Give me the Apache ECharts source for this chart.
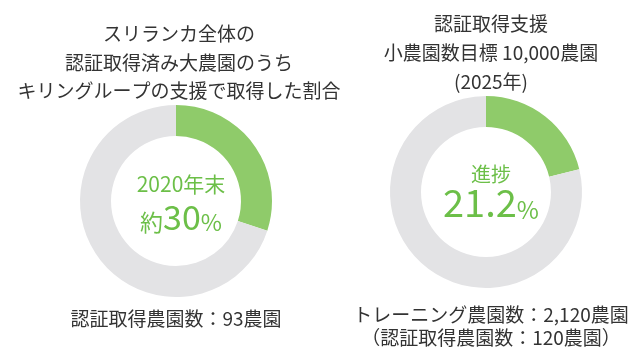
<!DOCTYPE html>
<html><head><meta charset="utf-8">
<script src="https://cdn.jsdelivr.net/npm/echarts@6/dist/echarts.min.js"></script>
<style>html,body{margin:0;padding:0;background:#fff}#c{width:640px;height:360px}</style>
</head><body><div id="c"></div>
<script>
const leftNames = ['キリングループの支援で取得', 'その他'];
const leftValues = [30, 70];
const rightNames = ['進捗', '残り'];
const rightValues = [21.2, 78.8];
const leftTitle = 'スリランカ全体の\n認証取得済み大農園のうち\nキリングループの支援で取得した割合';
const rightTitle = '認証取得支援\n小農園数目標 10,000農園\n(2025年)';
const leftFoot = '認証取得農園数：93農園';
const rightFoot = 'トレーニング農園数：2,120農園\n（認証取得農園数：120農園）';

const GREEN = '#8fcb6a', GRAY = '#e3e3e5', TXT = '#333333', TGREEN = '#6cbf48';
const FONT = '"Noto Sans CJK JP", "Noto Sans", sans-serif';
const chart = echarts.init(document.getElementById('c'));
function pie(names, vals, center) {
  return {
    type: 'pie', radius: [65, 96], center: center, startAngle: 90, clockwise: true,
    silent: true, label: { show: false }, labelLine: { show: false }, animation: false,
    data: names.map((n, i) => ({ name: n, value: vals[i], itemStyle: { color: i === 0 ? GREEN : GRAY } }))
  };
}
const norm = { fontWeight: 'normal', fontFamily: FONT };
chart.setOption({
  animation: false,
  textStyle: { fontFamily: FONT },
  title: [
    { text: leftTitle, left: 174, top: 15, textAlign: 'center',
      textStyle: Object.assign({ fontSize: 19, color: TXT, lineHeight: 28.5 }, norm) },
    { text: rightTitle, left: 486, top: 4, textAlign: 'center',
      textStyle: Object.assign({ fontSize: 19, color: TXT, lineHeight: 29 }, norm) },
    { text: leftFoot, left: 171, top: 304, textAlign: 'center',
      textStyle: Object.assign({ fontSize: 19, color: TXT }, norm) },
    { text: rightFoot, left: 486, top: 298, textAlign: 'center',
      textStyle: Object.assign({ fontSize: 19, color: TXT, lineHeight: 23 }, norm) },
    { text: '2020年末', left: 176, top: 169, textAlign: 'center',
      textStyle: Object.assign({ fontSize: 21, color: TGREEN }, norm) },
    { text: '{a|約}{b|30}{a|%}', left: 176, top: 195, textAlign: 'center',
      textStyle: Object.assign({ rich: {
        a: Object.assign({ fontSize: 23, color: TGREEN, verticalAlign: 'bottom' }, norm),
        b: Object.assign({ fontSize: 34, color: TGREEN, verticalAlign: 'bottom' }, norm) } }, norm) },
    { text: '進捗', left: 486, top: 159, textAlign: 'center',
      textStyle: Object.assign({ fontSize: 20, color: TGREEN }, norm) },
    { text: '{b|21.2}{a|%}', left: 486, top: 179, textAlign: 'center',
      textStyle: Object.assign({ rich: {
        a: Object.assign({ fontSize: 24, color: TGREEN, verticalAlign: 'bottom' }, norm),
        b: Object.assign({ fontSize: 38, color: TGREEN, verticalAlign: 'bottom' }, norm) } }, norm) }
  ],
  series: [pie(leftNames, leftValues, [176, 201]), pie(rightNames, rightValues, [486, 192])]
});
</script></body></html>
